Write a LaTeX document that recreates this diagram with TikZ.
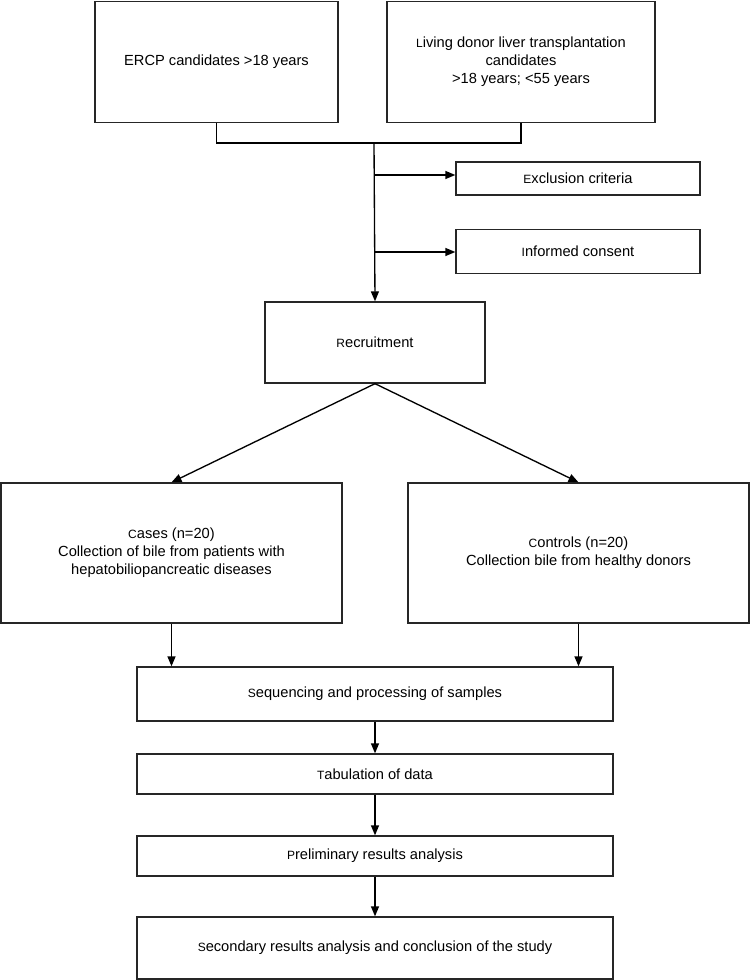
\documentclass[tikz,border=0pt]{standalone}
\usepackage{fontspec}
\setmainfont{Liberation Sans}
\usetikzlibrary{arrows.meta,calc}
\newcommand{\fl}[1]{{\fontsize{9}{10}\selectfont #1}}
\begin{document}
\begin{tikzpicture}[x=0.75pt,y=-0.75pt,
  box/.style={draw=black!85,line width=1pt,align=center,inner sep=0pt,
    font=\fontsize{11}{13.5}\selectfont},
  conn/.style={draw=black,line width=1pt},
  arr/.style={conn,-{Triangle[length=7.5pt,width=6pt]}}]
\useasboundingbox (0,0) rectangle (750,980);
\node[box,minimum width=243*0.75pt,minimum height=121*0.75pt] (ercp) at (216.5,62) {ERCP candidates >18 years};
\node[box,minimum width=268*0.75pt,minimum height=121*0.75pt] (ldlt) at (521,62) {\fl{L}iving donor liver transplantation\\candidates\\>18 years; <55 years};
\node[box,minimum width=244*0.75pt,minimum height=33*0.75pt] (excl) at (578,178.5) {\fl{E}xclusion criteria};
\node[box,minimum width=244*0.75pt,minimum height=44*0.75pt] (cons) at (578,251.5) {\fl{I}nformed consent};
\node[box,minimum width=220*0.75pt,minimum height=81*0.75pt] (recr) at (375,342.5) {\fl{R}ecruitment};
\node[box,minimum width=341*0.75pt,minimum height=140*0.75pt] (cases) at (171.5,553) {\fl{C}ases (n=20)\\Collection of bile from patients with\\hepatobiliopancreatic diseases};
\node[box,minimum width=341*0.75pt,minimum height=140*0.75pt] (ctrl) at (578.5,553) {\fl{C}ontrols (n=20)\\Collection bile from healthy donors};
\node[box,minimum width=476*0.75pt,minimum height=54*0.75pt] (seq) at (375,694) {\fl{S}equencing and processing of samples};
\node[box,minimum width=476*0.75pt,minimum height=40*0.75pt] (tab) at (375,774) {\fl{T}abulation of data};
\node[box,minimum width=476*0.75pt,minimum height=40*0.75pt] (pre) at (375,856) {\fl{P}reliminary results analysis};
\node[box,minimum width=476*0.75pt,minimum height=62*0.75pt] (sec) at (375,948) {\fl{S}econdary results analysis and conclusion of the study};
\coordinate (j) at (374,143);
\coordinate (e1) at (374,175);
\coordinate (c1) at (374,252);
\draw[conn] (ercp.south) |- (j) -| (ldlt.south);
\draw[arr] (j) -- (recr.north);
\draw[arr] (e1) -- (e1 -| excl.west);
\draw[arr] (c1) -- (c1 -| cons.west);
\draw[arr] (recr.south) -- (cases.north);
\draw[arr] (recr.south) -- (ctrl.north);
\draw[arr] (cases.south) -- (cases.south |- seq.north);
\draw[arr] (ctrl.south) -- (ctrl.south |- seq.north);
\draw[arr] (seq.south) -- (tab.north);
\draw[arr] (tab.south) -- (pre.north);
\draw[arr] (pre.south) -- (sec.north);
\end{tikzpicture}
\end{document}
